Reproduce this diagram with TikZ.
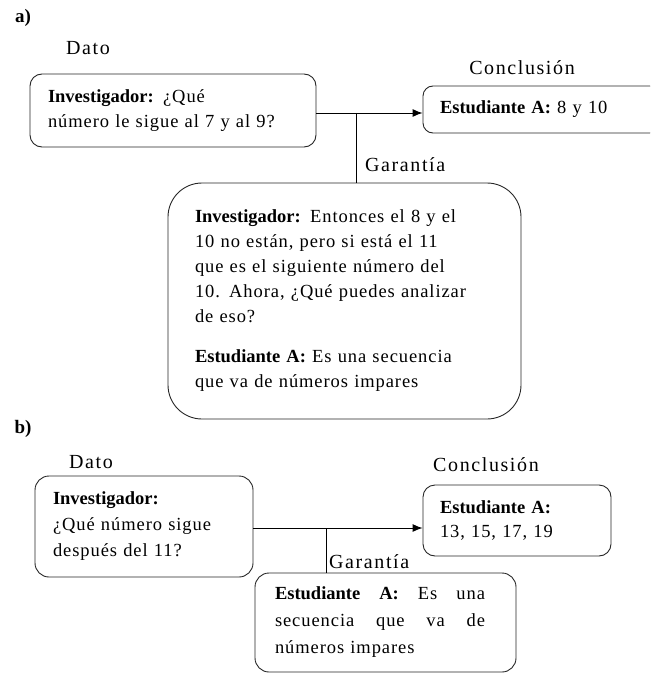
\documentclass[tikz,border=0pt]{standalone}
\usepackage{fontspec}
\setmainfont{Liberation Serif}[LetterSpace=5,BoldFeatures={LetterSpace=0}]
\newfontfamily\headfont{Liberation Serif}[LetterSpace=8]
\usetikzlibrary{arrows.meta}
\tikzset{
  x=1pt,y=1pt,
  box/.style={draw=black!85, line width=0.9pt, align=left, inner ysep=0pt,
    font=\fontsize{18.5}{25}\selectfont},
  lbl/.style={inner sep=0pt, font=\headfont\fontsize{20}{22}\selectfont},
  tag/.style={inner sep=0pt, font=\bfseries\fontsize{19}{22}\selectfont},
  conn/.style={draw=black, line width=0.9pt},
  arr/.style={conn, -{Latex[length=10pt,width=8pt]}}
}
\begin{document}
\begin{tikzpicture}
\useasboundingbox (0,0) rectangle (650,-674);
\clip (0,0) rectangle (650,-674);
% ---------- a) ----------
\node[tag] (la) at (23,-18) {a)};
\node[lbl] (datoLA) at (88,-48) {Dato};
\node[box, rounded corners=12pt, minimum width=286pt, minimum height=73pt,
      text width=250pt, inner xsep=18pt] (datoA) at (173,-110.5)
  {\textbf{Investigador:} ¿Qué\\número le sigue al 7 y al 9?};
\node[lbl] (concLA) at (522,-68) {Conclusión};
\node[box, rounded corners=10pt, minimum width=237pt, minimum height=47pt,
      text width=203pt, inner xsep=17pt] (concA) at (541.5,-109.5)
  {\textbf{Estudiante A:} 8 y 10};
\node[lbl, anchor=west] (garLA) at (365,-165) {Garantía};
\node[box, rounded corners=34pt, minimum width=353pt, minimum height=236pt,
      text width=299pt, inner xsep=27pt] (garA) at (344.5,-301)
  {\textbf{Investigador:} Entonces el 8 y el\\10 no están, pero si está el 11\\que es el siguiente número del\\10. Ahora, ¿Qué puedes analizar\\de eso?\\[15pt]\textbf{Estudiante A:} Es una secuencia\\que va de números impares};
\coordinate (jA) at (356,-113);
\draw[arr] (datoA.east |- jA) -- (concA.west |- jA);
\draw[conn] (jA) -- (jA |- garA.north);
% ---------- b) ----------
\node[tag] (lb) at (23,-429) {b)};
\node[lbl] (datoLB) at (91,-462) {Dato};
\node[box, rounded corners=14pt, minimum width=218pt, minimum height=101pt,
      text width=182pt, inner xsep=18pt, font=\fontsize{18.5}{26}\selectfont] (datoB) at (144,-526.5)
  {\textbf{Investigador:}\\¿Qué número sigue\\después del 11?};
\node[lbl] (concLB) at (486,-465) {Conclusión};
\node[box, rounded corners=12pt, minimum width=188pt, minimum height=71pt,
      text width=154pt, inner xsep=17pt, font=\fontsize{18.5}{24}\selectfont] (concB) at (517,-520.5)
  {\textbf{Estudiante A:}\\13, 15, 17, 19};
\node[lbl, anchor=west] (garLB) at (329,-562) {Garantía};
\node[box, rounded corners=14pt, minimum width=261pt, minimum height=99pt,
      text width=221pt, inner xsep=20pt, font=\fontsize{18.5}{27}\selectfont] (garB) at (385.5,-622.5)
  {\leavevmode\hbox to 210pt{\textbf{Estudiante}\hfil\textbf{A:}\hfil Es\hfil una}\\\leavevmode\hbox to 210pt{secuencia\hfil que\hfil va\hfil de}\\números impares};
\coordinate (jB) at (326,-528);
\draw[arr] (datoB.east |- jB) -- (concB.west |- jB);
\draw[conn] (jB) -- (jB |- garB.north);
\end{tikzpicture}
\end{document}
